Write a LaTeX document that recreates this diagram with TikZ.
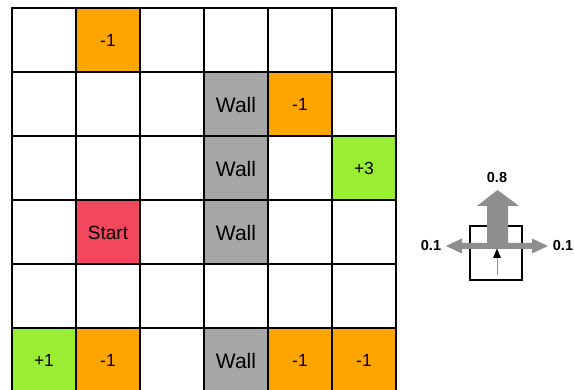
\documentclass[tikz,border=0pt]{standalone}
\usepackage{fontspec}
\setmainfont{Liberation Sans}
\definecolor{penalty}{HTML}{FFA500}
\definecolor{reward}{HTML}{99EE33}
\definecolor{startc}{HTML}{F2475C}
\definecolor{wallc}{HTML}{A6A6A6}
\definecolor{arrowgray}{HTML}{8E8E8E}
\tikzset{
  cell/.style={draw=black, line width=2pt, minimum size=64pt, inner sep=0pt, fill=white, font=\fontsize{17.5}{20}\selectfont},
  pencell/.style={cell, fill=penalty},
  rewcell/.style={cell, fill=reward},
  startcell/.style={cell, fill=startc, font=\fontsize{19}{22}\selectfont},
  wallcell/.style={cell, fill=wallc, font=\fontsize{21}{24}\selectfont},
  problabel/.style={font=\bfseries\fontsize{14.5}{17}\selectfont, inner sep=0pt},
  bigarrow/.style={fill=arrowgray, draw=none}
}
\begin{document}
\begin{tikzpicture}[x=1pt,y=-1pt]
\useasboundingbox (0,0) rectangle (574,390);
% grid cells
\foreach \r in {0,...,5}{
  \foreach \c in {0,...,5}{
    \node[cell] (c-\r-\c) at ({44+64*\c},{40.5+64*\r}) {};
  }
}
% special cells
\node[pencell] (c-0-1) at ({44+64*1},{40.5+64*0}) {-1};
\node[wallcell] (c-1-3) at ({44+64*3},{40.5+64*1}) {Wall};
\node[pencell] (c-1-4) at ({44+64*4},{40.5+64*1}) {-1};
\node[wallcell] (c-2-3) at ({44+64*3},{40.5+64*2}) {Wall};
\node[rewcell] (c-2-5) at ({44+64*5},{40.5+64*2}) {+3};
\node[startcell] (c-3-1) at ({44+64*1},{40.5+64*3}) {Start};
\node[wallcell] (c-3-3) at ({44+64*3},{40.5+64*3}) {Wall};
\node[rewcell] (c-5-0) at ({44+64*0},{40.5+64*5}) {+1};
\node[pencell] (c-5-1) at ({44+64*1},{40.5+64*5}) {-1};
\node[wallcell] (c-5-3) at ({44+64*3},{40.5+64*5}) {Wall};
\node[pencell] (c-5-4) at ({44+64*4},{40.5+64*5}) {-1};
\node[pencell] (c-5-5) at ({44+64*5},{40.5+64*5}) {-1};
% legend
\node[draw=black, line width=2.5pt, minimum width=52pt, minimum height=54pt, inner sep=0pt] (agent) at (496,253) {};
\fill[bigarrow] (487,249) -- (487,206) -- (477,206) -- (497.5,190) -- (519,206) -- (508,206) -- (508,249) -- cycle;
\fill[bigarrow] (446,246) -- (462,238.5) -- (462,243) -- (532,243) -- (532,238.5) -- (548,246) -- (532,253.5) -- (532,249) -- (462,249) -- (462,253.5) -- cycle;
\coordinate (tail) at (497,275);
\coordinate (head) at (497,248.5);
\draw[arrowgray, line width=0.8pt] (tail) -- (497,257);
\fill[black] (head) -- (501,258) -- (493,258) -- cycle;
\node[problabel] (pup) at (497,178) {0.8};
\node[problabel] (pleft) at (431,246) {0.1};
\node[problabel] (pright) at (563,246) {0.1};
\end{tikzpicture}
\end{document}
